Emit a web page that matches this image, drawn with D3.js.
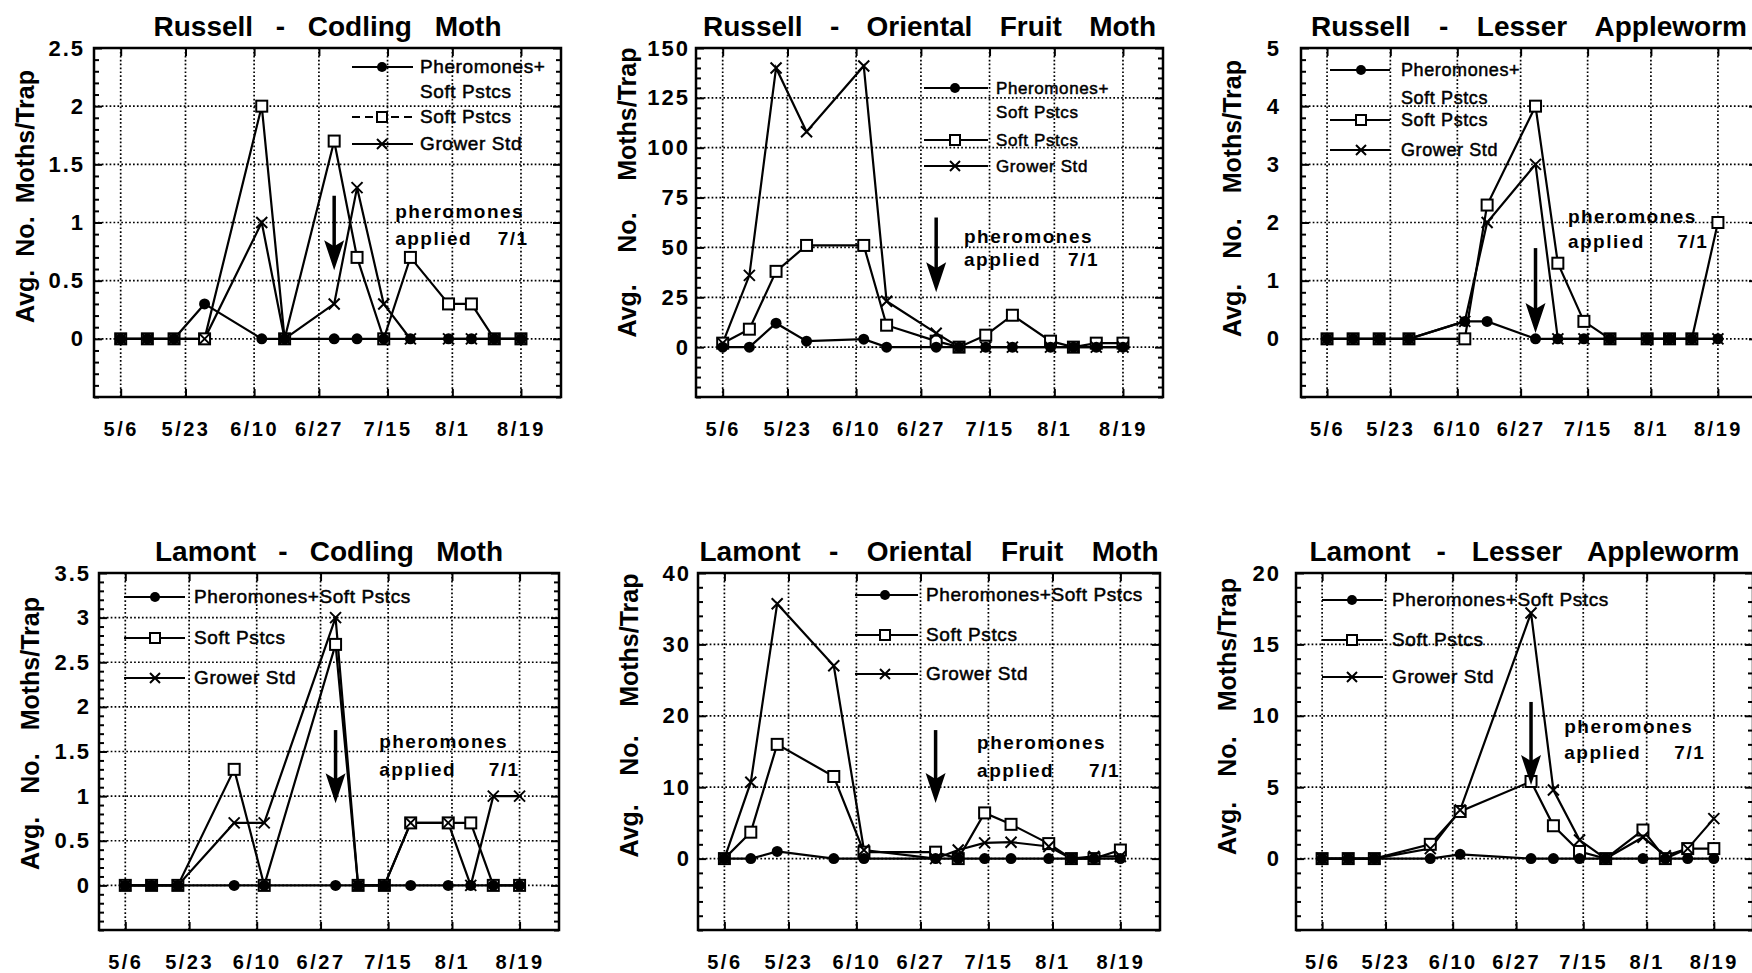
<!DOCTYPE html>
<html>
<head>
<meta charset="utf-8">
<script src="https://cdn.jsdelivr.net/npm/d3@7"></script>
<style>
  body { margin: 0; background: #fff; }
  svg { display: block; }
</style>
</head>
<body>
<svg id="chart" width="1752" height="973"></svg>
<script>
/* global d3 */
const FONT = "'Liberation Sans', Arial, Helvetica, sans-serif";

// sample dates (M/D) per site
const russellDates = ["5/6", "5/13", "5/20", "5/28", "6/12", "6/18", "7/1", "7/7", "7/14", "7/21", "7/31", "8/6", "8/12", "8/19"];
const lamontDates = ["5/6", "5/13", "5/20", "6/4", "6/12", "7/1", "7/7", "7/14", "7/21", "7/31", "8/6", "8/12", "8/19"];
const dateTicks = ["5/6", "5/23", "6/10", "6/27", "7/15", "8/1", "8/19"];

const russellLegend = [["Pheromones+", "Soft Pstcs"], ["Soft Pstcs"], ["Grower Std"]];
const lamontLegend = [["Pheromones+Soft Pstcs"], ["Soft Pstcs"], ["Grower Std"]];
const yLabel = "Avg. No. Moths/Trap";

// Russell - Codling Moth
const rcmPhero = [0, 0, 0, 0.3, 0, 0, 0, 0, 0, 0, 0, 0, 0, 0];
const rcmSoft = [0, 0, 0, 0, 2.0, 0, 1.7, 0.7, 0, 0.7, 0.3, 0.3, 0, 0];
const rcmGrower = [0, 0, 0, 0, 1.0, 0, 0.3, 1.3, 0.3, 0, 0, 0, 0, 0];

// Russell - Oriental Fruit Moth
const rofPhero = [0, 0, 12, 3, 4, 0, 0, 0, 0, 0, 0, 0, 0, 0];
const rofSoft = [2, 9, 38, 51, 51, 11, 3, 0, 6, 16, 3, 0, 2, 2];
const rofGrower = [2, 36, 140, 108, 141, 23, 7, 0, 0, 0, 0, 0, 0, 0];

// Russell - Lesser Appleworm
const rlaPhero = [0, 0, 0, 0, 0.3, 0.3, 0, 0, 0, 0, 0, 0, 0, 0];
const rlaSoft = [0, 0, 0, 0, 0, 2.3, 4.0, 1.3, 0.3, 0, 0, 0, 0, 2.0];
const rlaGrower = [0, 0, 0, 0, 0.3, 2.0, 3.0, 0, 0, 0, 0, 0, 0, 0];

// Lamont - Codling Moth
const lcmPhero = [0, 0, 0, 0, 0, 0, 0, 0, 0, 0, 0, 0, 0];
const lcmSoft = [0, 0, 0, 1.3, 0, 2.7, 0, 0, 0.7, 0.7, 0.7, 0, 0];
const lcmGrower = [0, 0, 0, 0.7, 0.7, 3.0, 0, 0, 0.7, 0.7, 0, 1.0, 1.0];

// Lamont - Oriental Fruit Moth
const lofPhero = [0, 0, 1.0, 0, 0, 0, 0, 0, 0, 0, 0, 0, 0];
const lofSoft = [0, 3.7, 16, 11.5, 0.9, 0.9, 0, 6.4, 4.8, 2.1, 0, 0, 1.2];
const lofGrower = [0, 10.7, 35.7, 27, 1.2, 0, 1.2, 2.2, 2.3, 1.7, 0, 0.3, 0.3];

// Lamont - Lesser Appleworm
const llaPhero = [0, 0, 0, 0, 0.3, 0, 0, 0, 0, 0, 0, 0, 0];
const llaSoft = [0, 0, 0, 1.0, 3.3, 5.4, 2.3, 0.5, 0, 2.0, 0, 0.7, 0.7];
const llaGrower = [0, 0, 0, 0.7, 3.4, 17.2, 4.8, 1.3, 0, 1.5, 0.2, 0.7, 2.8];

const base = new Date(1990, 4, 6);
const toDay = s => {
  const [m, d] = s.split("/").map(Number);
  return d3.timeDay.count(base, new Date(1990, m - 1, d));
};
const dayDomain = [-7, 115.5];

const panels = [
  { title: "Russell - Codling Moth", titleW: 348, dates: russellDates, legend: russellLegend,
    series: [rcmPhero, rcmSoft, rcmGrower], yDomain: [-0.5, 2.5], yTicks: [0, 0.5, 1, 1.5, 2, 2.5], yMinor: 0.1,
    box: [94, 48, 561, 397], labelGap: 9, yTitle: [253, -26],
    leg: { x1: 258, x2: 319, mx: 288, tx: 326, rows: [19, 69, 96], second: 25, size: 19, dashSoft: true },
    note: { top: 1.23, bottom: 0.59, tx: 72, tEnd: 107, l1: 1.09, l2: 0.86 } },
  { title: "Russell - Oriental Fruit Moth", titleW: 453, dates: russellDates, legend: russellLegend,
    series: [rofPhero, rofSoft, rofGrower], yDomain: [-25, 150], yTicks: [0, 25, 50, 75, 100, 125, 150], yMinor: 5,
    box: [696, 48, 1163, 397], labelGap: 6, yTitle: [290, -30],
    leg: { x1: 228, x2: 292, mx: 259, tx: 300, rows: [40, 92, 118], second: 24, size: 17 },
    note: { top: 65, bottom: 27.5, tx: 63.3, tEnd: 98.7, l1: 55, l2: 43.5 } },
  { title: "Russell - Lesser Appleworm", titleW: 436, dates: russellDates, legend: russellLegend,
    series: [rlaPhero, rlaSoft, rlaGrower], yDomain: [-1, 5], yTicks: [0, 1, 2, 3, 4, 5], yMinor: 0.2,
    box: [1301, 48, 1757, 397], labelGap: 20, yTitle: [277, -24],
    leg: { x1: 29, x2: 89, mx: 60, tx: 100, rows: [22, 72, 102], second: 28, size: 18 },
    note: { top: 1.56, bottom: 0.1, tx: 64.7, tEnd: 102.4, l1: 2.1, l2: 1.67 } },
  { title: "Lamont - Codling Moth", titleW: 348, dates: lamontDates, legend: lamontLegend,
    series: [lcmPhero, lcmSoft, lcmGrower], yDomain: [-0.5, 3.5], yTicks: [0, 0.5, 1, 1.5, 2, 2.5, 3, 3.5], yMinor: 0.1,
    box: [99, 573, 559, 930], labelGap: 8, yTitle: [273, -18],
    leg: { x1: 25, x2: 86, mx: 56, tx: 95, rows: [24, 65, 105], second: 0, size: 19 },
    note: { top: 1.74, bottom: 0.92, tx: 67.6, tEnd: 105, l1: 1.61, l2: 1.29 } },
  { title: "Lamont - Oriental Fruit Moth", titleW: 459, dates: lamontDates, legend: lamontLegend,
    series: [lofPhero, lofSoft, lofGrower], yDomain: [-10, 40], yTicks: [0, 10, 20, 30, 40], yMinor: 2,
    box: [698, 573, 1160, 930], labelGap: 7, yTitle: [284, -36],
    leg: { x1: 157, x2: 220, mx: 187, tx: 228, rows: [22, 62, 101], second: 0, size: 19 },
    note: { top: 18, bottom: 7.8, tx: 67, tEnd: 104.9, l1: 16.2, l2: 12.3 } },
  { title: "Lamont - Lesser Appleworm", titleW: 430, dates: lamontDates, legend: lamontLegend,
    series: [llaPhero, llaSoft, llaGrower], yDomain: [-5, 20], yTicks: [0, 5, 10, 15, 20], yMinor: 1,
    box: [1296, 573, 1753, 930], labelGap: 15, yTitle: [277, -35],
    leg: { x1: 26, x2: 87, mx: 56, tx: 96, rows: [27, 67, 104], second: 0, size: 19 },
    note: { top: 10.97, bottom: 5.15, tx: 64.9, tEnd: 102.7, l1: 9.2, l2: 7.4 } }
];

const svg = d3.select("#chart").attr("font-family", FONT);

// spread words so the text spans the wanted width
function fitWords(sel, target) {
  const node = sel.node();
  const gaps = (node.textContent.match(/ /g) || []).length;
  const natural = node.getComputedTextLength();
  if (gaps) sel.attr("word-spacing", Math.max(0, (target - natural) / gaps));
}

function marker(sel, kind, cx, cy, s) {
  if (kind === 0) {
    sel.append("circle").attr("cx", cx).attr("cy", cy).attr("r", s).attr("fill", "#000");
  } else if (kind === 1) {
    sel.append("rect").attr("x", cx - s).attr("y", cy - s).attr("width", 2 * s).attr("height", 2 * s)
      .attr("fill", "#fff").attr("stroke", "#000").attr("stroke-width", 2);
  } else {
    sel.append("path").attr("d", `M${cx - s},${cy - s}L${cx + s},${cy + s}M${cx - s},${cy + s}L${cx + s},${cy - s}`)
      .attr("stroke", "#000").attr("stroke-width", 2).attr("fill", "none");
  }
}

function styleAxis(g, size, spacing) {
  g.select(".domain").remove();
  g.selectAll(".tick line").attr("stroke", "#000").attr("stroke-width", 2);
  g.selectAll(".tick text").attr("fill", "#000").attr("font-size", size).attr("font-weight", 700)
    .attr("font-family", FONT).style("letter-spacing", spacing + "px");
}

function drawPanel(p) {
  const [x0, y0, x1, y1] = p.box;
  const x = d3.scaleLinear().domain(dayDomain).range([x0, x1]);
  const y = d3.scaleLinear().domain(p.yDomain).range([y1, y0]);
  const g = svg.append("g");
  const tickDays = dateTicks.map(toDay);

  // dotted grid
  g.append("g").selectAll("line").data(tickDays).join("line")
    .attr("x1", d => x(d)).attr("x2", d => x(d)).attr("y1", y0).attr("y2", y1)
    .attr("stroke", "#000").attr("stroke-width", 1.7).attr("stroke-dasharray", "1.7,2.2");
  g.append("g").selectAll("line").data(p.yTicks.filter(v => v < p.yDomain[1])).join("line")
    .attr("x1", x0).attr("x2", x1).attr("y1", d => y(d)).attr("y2", d => y(d))
    .attr("stroke", "#000").attr("stroke-width", 1.7).attr("stroke-dasharray", "1.7,2.2");

  // axes with inward ticks
  const nMinor = Math.round((p.yDomain[1] - p.yDomain[0]) / p.yMinor);
  const minor = d3.range(nMinor + 1).map(i => p.yDomain[0] + i * p.yMinor)
    .filter(v => !p.yTicks.some(t => Math.abs(t - v) < p.yMinor / 10));

  g.append("g").attr("transform", `translate(${x0},0)`)
    .call(d3.axisLeft(y).tickValues(p.yTicks).tickSize(-8).tickPadding(p.labelGap).tickFormat(d => String(d)))
    .call(a => styleAxis(a, 22, 2));
  g.append("g").attr("transform", `translate(${x0},0)`)
    .call(d3.axisLeft(y).tickValues(minor).tickSize(-5).tickFormat(""))
    .call(a => styleAxis(a, 10, 0));
  g.append("g").attr("transform", `translate(${x1},0)`)
    .call(d3.axisRight(y).tickValues(p.yTicks).tickSize(-8).tickFormat(""))
    .call(a => styleAxis(a, 10, 0));
  g.append("g").attr("transform", `translate(${x1},0)`)
    .call(d3.axisRight(y).tickValues(minor).tickSize(-5).tickFormat(""))
    .call(a => styleAxis(a, 10, 0));
  g.append("g").attr("transform", `translate(0,${y1})`)
    .call(d3.axisBottom(x).tickValues(tickDays).tickSize(-8).tickPadding(25).tickFormat((d, i) => dateTicks[i]))
    .call(a => styleAxis(a, 20, 2.5));
  g.append("g").attr("transform", `translate(0,${y0})`)
    .call(d3.axisTop(x).tickValues(tickDays).tickSize(-8).tickFormat(""))
    .call(a => styleAxis(a, 10, 0));

  g.append("rect").attr("x", x0).attr("y", y0).attr("width", x1 - x0).attr("height", y1 - y0)
    .attr("fill", "none").attr("stroke", "#000").attr("stroke-width", 2.5);

  // title
  const title = svg.append("text").attr("x", (x0 + x1) / 2).attr("y", y0 - 12)
    .attr("text-anchor", "middle").attr("font-size", 28).attr("font-weight", 700).text(p.title);
  fitWords(title, p.titleW);

  // y axis title
  const cy = (y0 + y1) / 2 + p.yTitle[1];
  const yt = svg.append("text").attr("transform", `translate(${x0 - 69},${cy}) rotate(-90)`)
    .attr("text-anchor", "middle").attr("dy", "0.36em").attr("font-size", 25).attr("font-weight", 700).text(yLabel);
  fitWords(yt, p.yTitle[0]);

  // series
  const pts = p.series.map((vals, k) => vals.map((v, i) => ({ k, day: toDay(p.dates[i]), v })));
  const line = d3.line().x(d => x(d.day)).y(d => y(d.v));
  g.append("g").selectAll("path").data(pts.slice().reverse()).join("path")
    .attr("d", line).attr("fill", "none").attr("stroke", "#000").attr("stroke-width", 2.2);

  const s = 5.5;
  g.append("g").selectAll("rect").data(pts[1]).join("rect")
    .attr("x", d => x(d.day) - s).attr("y", d => y(d.v) - s).attr("width", 2 * s).attr("height", 2 * s)
    .attr("fill", "#fff").attr("stroke", "#000").attr("stroke-width", 2);
  g.append("g").selectAll("circle").data(pts[0]).join("circle")
    .attr("cx", d => x(d.day)).attr("cy", d => y(d.v)).attr("r", s).attr("fill", "#000");
  g.append("g").selectAll("path").data(pts[2]).join("path")
    .attr("transform", d => `translate(${x(d.day)},${y(d.v)})`)
    .attr("d", `M${-s},${-s}L${s},${s}M${-s},${s}L${s},${-s}`)
    .attr("stroke", "#000").attr("stroke-width", 2).attr("fill", "none");

  // legend
  const L = p.leg;
  const lg = g.append("g");
  p.legend.forEach((lines, i) => {
    const ry = y0 + L.rows[i];
    lg.append("line").attr("x1", x0 + L.x1).attr("x2", x0 + L.x2).attr("y1", ry).attr("y2", ry)
      .attr("stroke", "#000").attr("stroke-width", 2)
      .attr("stroke-dasharray", i === 1 && L.dashSoft ? "8,5" : null);
    marker(lg, i, x0 + L.mx, ry, 5);
    lines.forEach((t, j) => {
      lg.append("text").attr("x", x0 + L.tx).attr("y", ry + 6 + j * L.second)
        .attr("font-size", L.size).attr("stroke", "#000").attr("stroke-width", 0.5)
        .style("letter-spacing", "0.6px").text(t);
    });
  });

  // pheromone application note
  const n = p.note;
  const ax = x(toDay("7/1"));
  const yb = y(n.bottom);
  g.append("line").attr("x1", ax).attr("x2", ax).attr("y1", y(n.top)).attr("y2", yb - 20)
    .attr("stroke", "#000").attr("stroke-width", 3.5);
  g.append("path").attr("d", `M${ax},${yb}L${ax - 10},${yb - 30}L${ax},${yb - 24}L${ax + 10},${yb - 30}Z`)
    .attr("fill", "#000");
  const noteText = (tx, ty, t, anchor) => g.append("text").attr("x", tx).attr("y", ty)
    .attr("text-anchor", anchor).attr("font-size", 19).attr("font-weight", 700)
    .style("letter-spacing", "1.5px").text(t);
  noteText(x(n.tx), y(n.l1) + 6, "pheromones", "start");
  noteText(x(n.tx), y(n.l2) + 6, "applied", "start");
  noteText(x(n.tEnd), y(n.l2) + 6, "7/1", "end");
}

panels.forEach(drawPanel);
</script>
</body>
</html>
